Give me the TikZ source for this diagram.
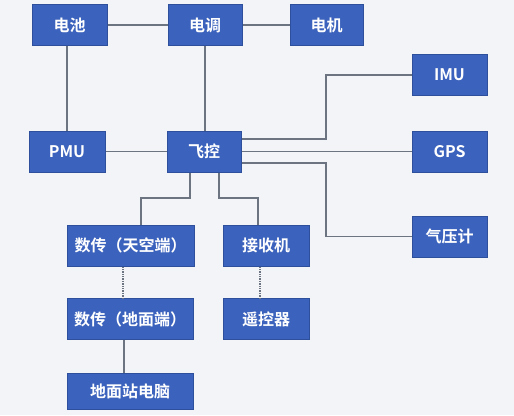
\documentclass[tikz,border=0pt]{standalone}
\usepackage{fontspec}
\newfontfamily\cjk{Noto Sans CJK SC Bold}
\definecolor{bg}{HTML}{F2F4F7}
\definecolor{boxfill}{HTML}{3B62BC}
\definecolor{boxedge}{HTML}{2E4F9C}
\definecolor{wire}{HTML}{6C7482}
\begin{document}
\begin{tikzpicture}[x=1bp,y=-1bp,
  blk/.style={rectangle,draw=boxedge,line width=1bp,fill=boxfill,text=white,inner sep=0pt,
    font=\cjk\fontsize{16bp}{18bp}\selectfont,minimum height=41bp},
  conn/.style={draw=wire,line width=1.4bp},
  dotconn/.style={draw=wire,line width=1.4bp,densely dotted}]
\fill[bg] (0,0) rectangle (514,415);
\useasboundingbox (0,0) rectangle (514,415);
\node[blk,minimum width=75bp] (dc) at (69.5,25) {电池};
\node[blk,minimum width=74bp] (dt) at (205,25) {电调};
\node[blk,minimum width=73bp] (dj) at (326.5,25) {电机};
\node[blk,minimum width=75bp] (imu) at (449.5,75) {IMU};
\node[blk,minimum width=76bp] (pmu) at (67,151.5) {PMU};
\node[blk,minimum width=74bp] (fk) at (204,151.5) {飞控};
\node[blk,minimum width=75bp] (gps) at (449.5,151.5) {GPS};
\node[blk,minimum width=127bp] (sck) at (130.5,245.5) {数传（天空端）};
\node[blk,minimum width=86bp] (jsj) at (266,245.5) {接收机};
\node[blk,minimum width=75bp] (qyj) at (449.5,236.5) {气压计};
\node[blk,minimum width=126bp] (scd) at (130,319) {数传（地面端）};
\node[blk,minimum width=86bp] (ykq) at (266,319) {遥控器};
\node[blk,minimum width=126bp,minimum height=36bp] (dmz) at (130,391) {地面站电脑};
\coordinate (jx) at (326,0);
\coordinate (jy) at (0,198);
\path[conn] (dc) -- (dt);
\path[conn] (dt) -- (dj);
\path[conn] (pmu.north) -- (pmu.north |- dc.south);
\path[conn] ([xshift=1bp]fk.north) -- ([xshift=1bp]fk.north |- dt.south);
\path[conn] (pmu) -- (fk);
\path[conn] (fk) -- (gps);
\path[conn] ([yshift=12.5bp]fk.east) -| (jx |- imu.west) -- (imu.west);
\path[conn] ([yshift=-11.5bp]fk.east) -| (jx |- qyj.west) -- (qyj.west);
\path[conn] ([xshift=-14bp]fk.south) |- ([xshift=10.5bp]sck.north |- jy) -- ([xshift=10.5bp]sck.north);
\path[conn] ([xshift=15bp]fk.south) |- ([xshift=-8bp]jsj.north |- jy) -- ([xshift=-8bp]jsj.north);
\path[dotconn] ([xshift=-7.5bp]sck.south) -- ([xshift=-7.5bp]sck.south |- scd.north);
\path[dotconn] ([xshift=-6bp]jsj.south) -- ([xshift=-6bp]jsj.south |- ykq.north);
\path[conn] ([xshift=-6bp]scd.south) -- ([xshift=-6bp]scd.south |- dmz.north);
\end{tikzpicture}
\end{document}
